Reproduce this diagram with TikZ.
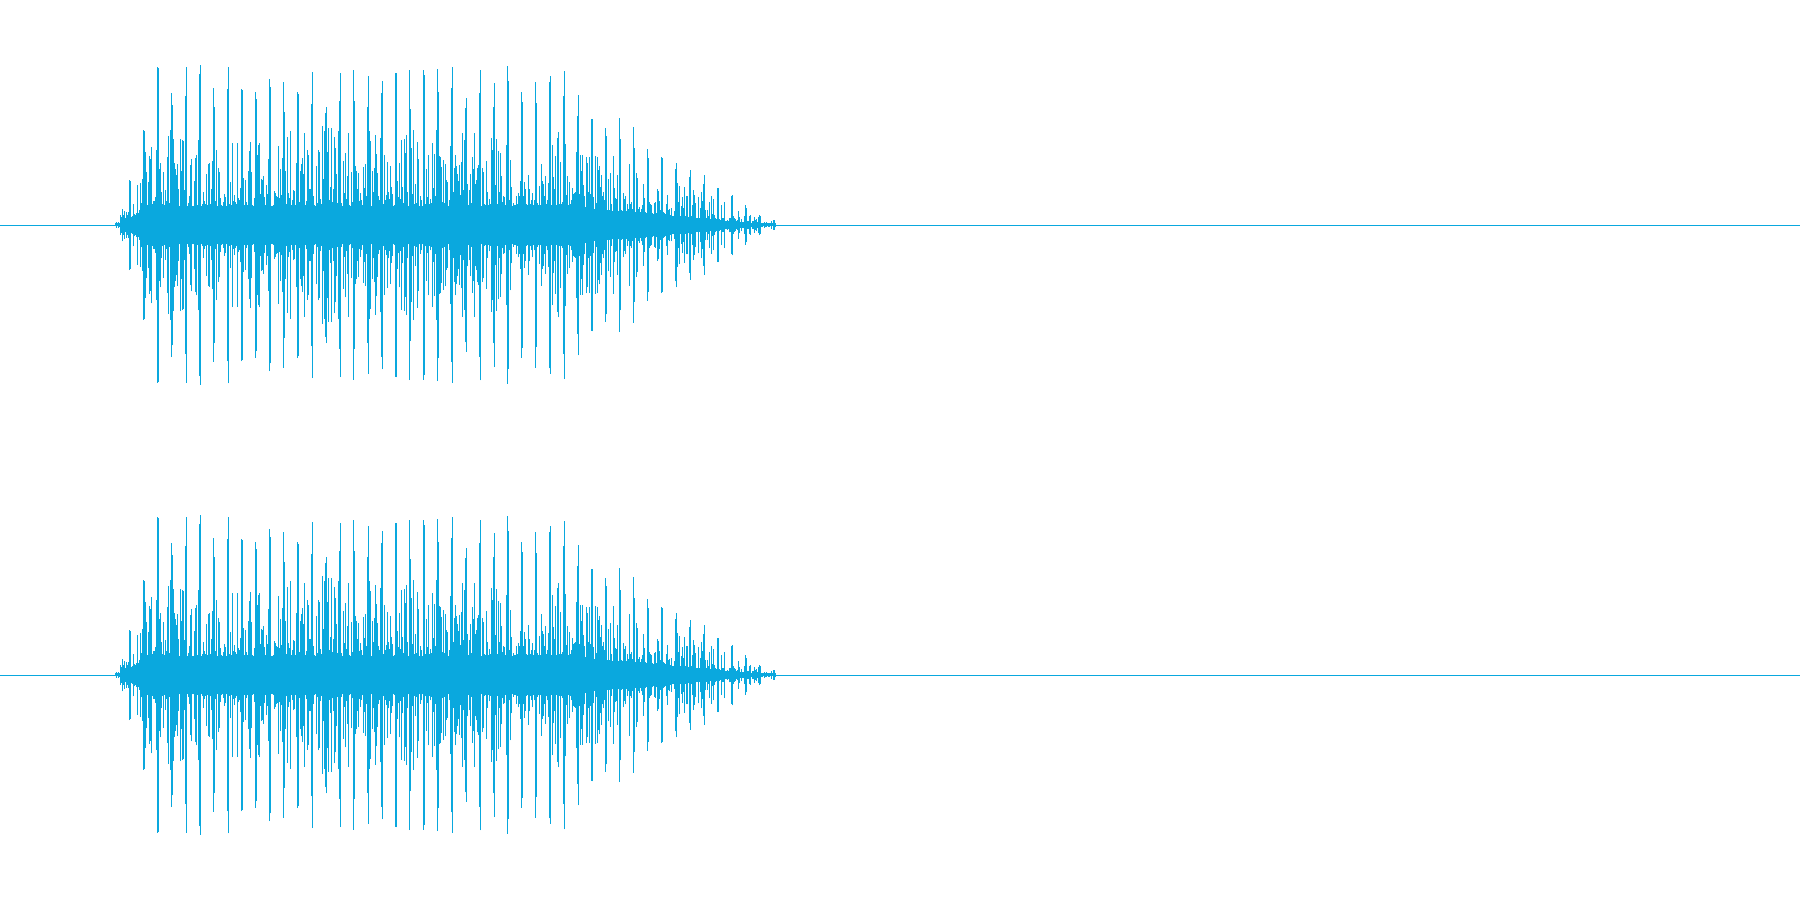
\documentclass[tikz,border=0pt]{standalone}
\definecolor{wave}{HTML}{0AA8DE}
\begin{document}
\begin{tikzpicture}[x=0.5pt,y=0.5pt,wv/.style={draw=wave,line width=0.45pt}]
\useasboundingbox (0,0) rectangle (1800,900);
\pgfmathsetseed{7}
\draw[wv] (0,675) -- (1800,675);
\draw[wv] (0,225) -- (1800,225);
\foreach \i in {0,...,660}{
  \pgfmathsetmacro\x{115+\i}
  \pgfmathsetmacro\e{\x<155 ? (\x-115)/40 : (\x<557 ? 1 : max(0.04,(775-\x)/218))}
  \pgfmathsetmacro\r{rnd}
  \pgfmathsetmacro\p{mod(\i,14)<2 ? 0.7+0.3*\r : 0.12+0.5*\r*\r}
  \pgfmathsetmacro\a{max(1.5,160*\e*\p)}
  \draw[wv] (\x,675-\a) -- (\x,675+\a);
  \draw[wv] (\x,225-\a) -- (\x,225+\a);
}
\end{tikzpicture}
\end{document}
